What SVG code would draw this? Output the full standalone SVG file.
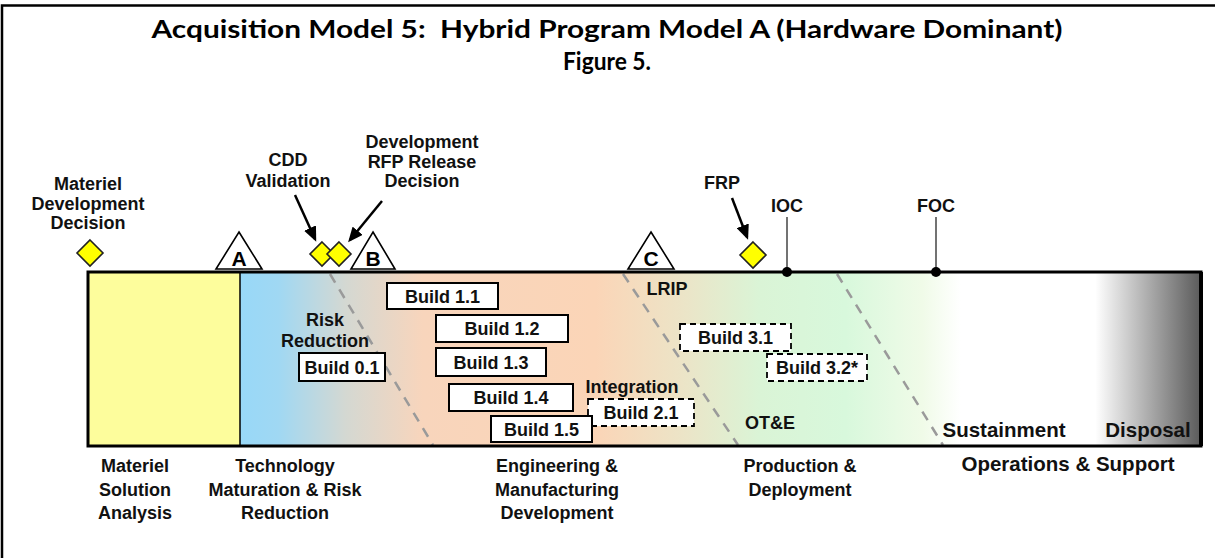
<svg xmlns="http://www.w3.org/2000/svg" width="1215" height="558" viewBox="0 0 1215 558">
  <defs>
    <style>
      .lbl { font-family: "Liberation Sans", Arial, sans-serif; font-weight: bold; font-size: 18px; fill: #111; text-anchor: middle; }
      .lbl-l { font-family: "Liberation Sans", Arial, sans-serif; font-weight: bold; font-size: 20.5px; fill: #111; text-anchor: middle; }
      .title { font-family: Lato, "Liberation Sans", sans-serif; font-weight: bold; font-size: 24px; fill: #000; text-anchor: middle; }
      .box { fill: #fff; stroke: #000; stroke-width: 2; }
      .dbox { fill: #fff; stroke: #000; stroke-width: 1.8; stroke-dasharray: 6 4; }
      .ms { fill: #ffff00; stroke: #222; stroke-width: 1.6; }
      .tri { fill: #fff; stroke: #000; stroke-width: 1.6; }
      .tri-t { font-family: "Liberation Sans", Arial, sans-serif; font-weight: bold; font-size: 21px; fill: #000; text-anchor: middle; }
      .phase { stroke: #9a9a9a; stroke-width: 2.5; stroke-dasharray: 10 8; fill: none; }
      .arrow { stroke: #000; stroke-width: 2.5; fill: none; marker-end: url(#head); }
      .lead { stroke: #444; stroke-width: 1.5; }
    </style>
    <marker id="head" markerUnits="userSpaceOnUse" markerWidth="15" markerHeight="13" viewBox="0 0 15 13" refX="12" refY="6.5" orient="auto">
      <path d="M0,0 L15,6.5 L0,13 z" fill="#000"/>
    </marker>
    <linearGradient id="lifecycle" gradientUnits="userSpaceOnUse" x1="240" y1="0" x2="1201" y2="0">
      <stop offset="0" stop-color="#98d8f8"/>
      <stop offset="0.04" stop-color="#a0d8f3"/>
      <stop offset="0.11" stop-color="#d4d8d2"/>
      <stop offset="0.19" stop-color="#f8d5bc"/>
      <stop offset="0.37" stop-color="#fbd5b7"/>
      <stop offset="0.46" stop-color="#ece4c7"/>
      <stop offset="0.54" stop-color="#daf4d6"/>
      <stop offset="0.63" stop-color="#d8f8dc"/>
      <stop offset="0.71" stop-color="#f0fbe8"/>
      <stop offset="0.75" stop-color="#ffffff"/>
      <stop offset="0.89" stop-color="#ffffff"/>
      <stop offset="1" stop-color="#5a5a5a"/>
    </linearGradient>
  </defs>

  <rect width="1215" height="558" fill="#fff"/>
  <!-- page frame -->
  <path d="M2,558 L2,5.5 L1215,5.5" fill="none" stroke="#000" stroke-width="2.5"/>

  <!-- heading -->
  <text class="title" x="607" y="38" textLength="911" lengthAdjust="spacingAndGlyphs">Acquisition Model 5:&#160; Hybrid Program Model A (Hardware Dominant)</text>
  <text class="title" x="607" y="70" textLength="88" lengthAdjust="spacingAndGlyphs">Figure 5.</text>

  <!-- life-cycle bar -->
  <g id="phase-bar">
    <rect x="88" y="272" width="152" height="174" fill="#fdfd9c"/>
    <rect x="240" y="272" width="961" height="174" fill="url(#lifecycle)"/>
    <line x1="240" y1="272" x2="240" y2="446" stroke="#000" stroke-width="1.5"/>
    <line class="phase" x1="330" y1="274" x2="433" y2="445"/>
    <line class="phase" x1="623" y1="274" x2="738" y2="445"/>
    <line class="phase" x1="837" y1="274" x2="943" y2="445"/>
    <rect x="88" y="272" width="1113" height="174" fill="none" stroke="#000" stroke-width="3"/>
    <line x1="1201" y1="272" x2="1201" y2="446" stroke="#000" stroke-width="4"/>
  </g>

  <!-- decision-point leaders and arrows -->
  <g id="connectors">
    <line class="lead" x1="787" y1="217" x2="787" y2="272"/>
    <line class="lead" x1="936" y1="217" x2="936" y2="272"/>
    <line class="arrow" x1="295" y1="195" x2="315" y2="239"/>
    <line class="arrow" x1="382" y1="201" x2="350" y2="240"/>
    <line class="arrow" x1="732" y1="198" x2="747" y2="237"/>
  </g>

  <g id="mdd">
    <text class="lbl" x="88" y="190">Materiel</text>
    <text class="lbl" x="88" y="210">Development</text>
    <text class="lbl" x="88" y="229">Decision</text>
    <polygon class="ms" points="90,240 103,253 90,266 77,253"/>
  </g>

  <g id="milestone-a">
    <polygon class="tri" points="239,232 262,269 216,269"/>
    <text class="tri-t" x="239" y="266">A</text>
  </g>

  <g id="cdd-validation">
    <text class="lbl" x="288" y="166">CDD</text>
    <text class="lbl" x="288" y="187">Validation</text>
    <polygon class="ms" points="322,242 334,254 322,266 310,254"/>
  </g>

  <g id="rfp-release">
    <text class="lbl" x="422" y="148">Development</text>
    <text class="lbl" x="422" y="168">RFP Release</text>
    <text class="lbl" x="422" y="187">Decision</text>
    <polygon class="ms" points="339,242 351,254 339,266 327,254"/>
  </g>

  <g id="milestone-b">
    <polygon class="tri" points="373,232 395,269 351,269"/>
    <text class="tri-t" x="373" y="266">B</text>
  </g>

  <g id="milestone-c">
    <polygon class="tri" points="651,232 674,269 628,269"/>
    <text class="tri-t" x="651" y="266">C</text>
  </g>

  <g id="frp">
    <text class="lbl" x="722" y="189">FRP</text>
    <polygon class="ms" points="753,242 766,255 753,268 740,255"/>
  </g>

  <g id="ioc">
    <text class="lbl" x="787" y="212">IOC</text>
    <circle cx="787" cy="272" r="5" fill="#000"/>
  </g>

  <g id="foc">
    <text class="lbl" x="936" y="212">FOC</text>
    <circle cx="936" cy="272" r="5" fill="#000"/>
  </g>

  <g id="risk-reduction">
    <text class="lbl" x="325" y="326">Risk</text>
    <text class="lbl" x="325" y="347">Reduction</text>
  </g>

  <g id="build-0-1">
    <rect class="box" x="299" y="353" width="86" height="28"/>
    <text class="lbl" x="342" y="373.5">Build 0.1</text>
  </g>

  <g id="build-2-1">
    <rect class="dbox" x="588" y="399" width="106" height="27"/>
    <text class="lbl" x="641" y="419">Build 2.1</text>
  </g>

  <g id="build-1-1">
    <rect class="box" x="387" y="283" width="111" height="26"/>
    <text class="lbl" x="442.5" y="302.5">Build 1.1</text>
  </g>
  <g id="build-1-2">
    <rect class="box" x="436" y="315" width="132" height="27"/>
    <text class="lbl" x="502" y="335">Build 1.2</text>
  </g>
  <g id="build-1-3">
    <rect class="box" x="436" y="348" width="110" height="28"/>
    <text class="lbl" x="491" y="368.5">Build 1.3</text>
  </g>
  <g id="build-1-4">
    <rect class="box" x="449" y="384" width="124" height="27"/>
    <text class="lbl" x="511" y="404">Build 1.4</text>
  </g>
  <g id="build-1-5">
    <rect class="box" x="491" y="416" width="101" height="26"/>
    <text class="lbl" x="541.5" y="435.5">Build 1.5</text>
  </g>

  <g id="integration">
    <text class="lbl" x="632" y="393">Integration</text>
  </g>

  <g id="lrip">
    <text class="lbl" x="667" y="295">LRIP</text>
  </g>

  <g id="build-3-1">
    <rect class="dbox" x="680" y="324" width="111" height="27"/>
    <text class="lbl" x="735.5" y="344">Build 3.1</text>
  </g>
  <g id="build-3-2">
    <rect class="dbox" x="767" y="354" width="100" height="27"/>
    <text class="lbl" x="817" y="374">Build 3.2*</text>
  </g>

  <g id="ote">
    <text class="lbl" x="770" y="429" font-size="19">OT&amp;E</text>
  </g>

  <g id="sustainment">
    <text class="lbl-l" x="1004" y="437">Sustainment</text>
  </g>
  <g id="disposal">
    <text class="lbl-l" x="1148" y="437">Disposal</text>
  </g>

  <!-- phase names under the bar -->
  <g id="msa">
    <text class="lbl" x="135" y="472">Materiel</text>
    <text class="lbl" x="135" y="495.5">Solution</text>
    <text class="lbl" x="135" y="518.5">Analysis</text>
  </g>
  <g id="tmrr">
    <text class="lbl" x="285" y="472">Technology</text>
    <text class="lbl" x="285" y="495.5">Maturation &amp; Risk</text>
    <text class="lbl" x="285" y="518.5">Reduction</text>
  </g>
  <g id="emd">
    <text class="lbl" x="557" y="472">Engineering &amp;</text>
    <text class="lbl" x="557" y="495.5">Manufacturing</text>
    <text class="lbl" x="557" y="518.5">Development</text>
  </g>
  <g id="pd">
    <text class="lbl" x="800" y="472" font-size="19">Production &amp;</text>
    <text class="lbl" x="800" y="495.5">Deployment</text>
  </g>
  <g id="os">
    <text class="lbl-l" x="1068" y="471">Operations &amp; Support</text>
  </g>
</svg>
